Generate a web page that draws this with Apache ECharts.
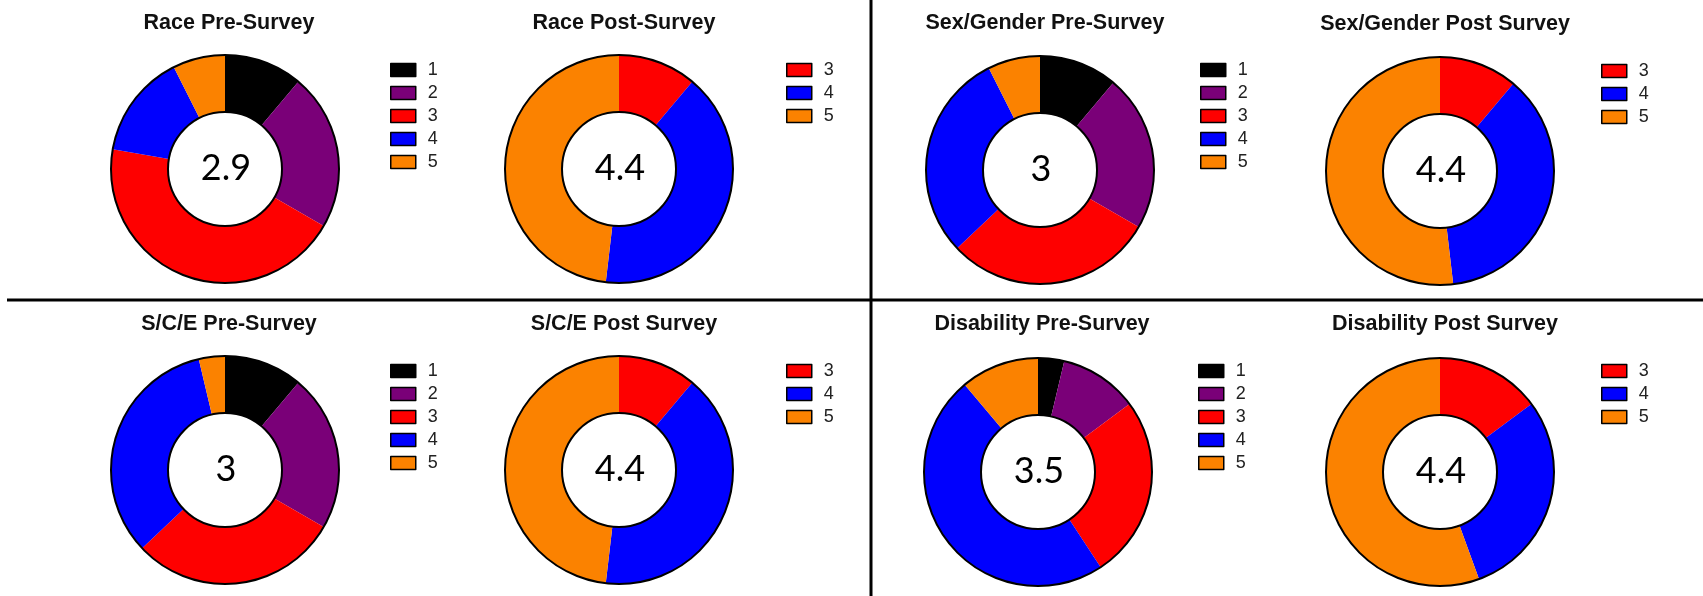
<!DOCTYPE html>
<html>
<head>
<meta charset="utf-8">
<script src="https://cdn.jsdelivr.net/npm/echarts@6/dist/echarts.min.js"></script>
<style>
  html, body { margin: 0; padding: 0; background: #ffffff; }
  #chart { width: 1703px; height: 596px; }
</style>
</head>
<body>
<div id="chart"></div>
<script>
// ---- Data (counts of respondents per rating) ----
const preCategories = ['1', '2', '3', '4', '5'];
const postCategories = ['3', '4', '5'];

const racePre = [3, 6, 12, 4, 2];
const racePost = [3, 11, 13];
const sexGenderPre = [3, 6, 8, 8, 2];
const sexGenderPost = [3, 10, 14];
const scePre = [3, 6, 8, 9, 1];
const scePost = [3, 11, 13];
const disabilityPre = [1, 3, 7, 13, 3];
const disabilityPost = [4, 8, 15];

const panelTitles = [
  'Race Pre-Survey', 'Race Post-Survey', 'Sex/Gender Pre-Survey', 'Sex/Gender Post Survey',
  'S/C/E Pre-Survey', 'S/C/E Post Survey', 'Disability Pre-Survey', 'Disability Post Survey'
];
const centerLabels = ['2.9', '4.4', '3', '4.4', '3', '4.4', '3.5', '4.4'];

// ---- Styling / layout ----
const colorMap = { '1': '#000000', '2': '#7a0078', '3': '#fe0000', '4': '#0000fe', '5': '#fb8200' };

const panels = [
  { cats: preCategories,  vals: racePre,        cx: 225,  cy: 169, tx: 224,  ty: 7,   lx: 385,  ly: 56 },
  { cats: postCategories, vals: racePost,       cx: 619,  cy: 169, tx: 619,  ty: 7,   lx: 781,  ly: 56 },
  { cats: preCategories,  vals: sexGenderPre,   cx: 1040, cy: 170, tx: 1040, ty: 7,   lx: 1195, ly: 56 },
  { cats: postCategories, vals: sexGenderPost,  cx: 1440, cy: 171, tx: 1440, ty: 8,   lx: 1596, ly: 57 },
  { cats: preCategories,  vals: scePre,         cx: 225,  cy: 470, tx: 224,  ty: 308, lx: 385,  ly: 357 },
  { cats: postCategories, vals: scePost,        cx: 619,  cy: 470, tx: 619,  ty: 308, lx: 781,  ly: 357 },
  { cats: preCategories,  vals: disabilityPre,  cx: 1038, cy: 472, tx: 1037, ty: 308, lx: 1193, ly: 357 },
  { cats: postCategories, vals: disabilityPost, cx: 1440, cy: 472, tx: 1440, ty: 308, lx: 1596, ly: 357 }
];

const R_OUT = 114, R_IN = 57;

const chart = echarts.init(document.getElementById('chart'), null, { renderer: 'canvas' });

const series = [];
const titles = [];
const legends = [];
const graphics = [];

panels.forEach((p, i) => {
  series.push({
    type: 'pie',
    name: panelTitles[i],
    center: [p.cx, p.cy],
    radius: [R_IN, R_OUT],
    startAngle: 90,
    clockwise: true,
    silent: true,
    label: { show: false },
    labelLine: { show: false },
    emphasis: { disabled: true },
    itemStyle: { borderWidth: 0 },
    data: p.cats.map((c, k) => ({ name: c, value: p.vals[k], itemStyle: { color: colorMap[c] } }))
  });
  // ring outline (outer + inner circle)
  series.push({
    type: 'pie',
    center: [p.cx, p.cy],
    radius: [R_IN, R_OUT],
    silent: true,
    z: 5,
    label: { show: false },
    labelLine: { show: false },
    emphasis: { disabled: true },
    tooltip: { show: false },
    itemStyle: { color: 'rgba(0,0,0,0)', borderColor: '#000', borderWidth: 2 },
    data: [{ name: '__ring' + i, value: 1 }]
  });
  titles.push({
    text: panelTitles[i],
    left: p.tx,
    top: p.ty,
    textAlign: 'center',
    textStyle: { fontFamily: 'Liberation Sans, Arial, sans-serif', fontWeight: 'bold', fontSize: 21.5, color: '#111' }
  });
  legends.push({
    data: p.cats.slice(),
    orient: 'vertical',
    left: p.lx,
    top: p.ly,
    icon: 'rect',
    itemWidth: 25,
    itemHeight: 13,
    itemGap: 5,
    selectedMode: false,
    itemStyle: { borderColor: '#000', borderWidth: 1.5 },
    textStyle: { fontFamily: 'Liberation Sans, Arial, sans-serif', fontSize: 18, color: '#222', padding: [0, 0, 0, 7] }
  });
  graphics.push({
    type: 'text',
    x: p.cx + 1,
    y: p.cy - 1,
    silent: true,
    style: {
      text: centerLabels[i],
      fill: '#000',
      font: '36px Lato, "Open Sans", sans-serif',
      textAlign: 'center',
      textVerticalAlign: 'middle'
    }
  });
});

// dividers
graphics.push({
  type: 'line', silent: true,
  shape: { x1: 7, y1: 300, x2: 1703, y2: 300 },
  style: { stroke: '#000', lineWidth: 3 }
});
graphics.push({
  type: 'line', silent: true,
  shape: { x1: 871, y1: 0, x2: 871, y2: 596 },
  style: { stroke: '#000', lineWidth: 3 }
});

chart.setOption({
  backgroundColor: '#ffffff',
  animation: false,
  title: titles,
  legend: legends,
  series: series,
  graphic: graphics
});
</script>
</body>
</html>
